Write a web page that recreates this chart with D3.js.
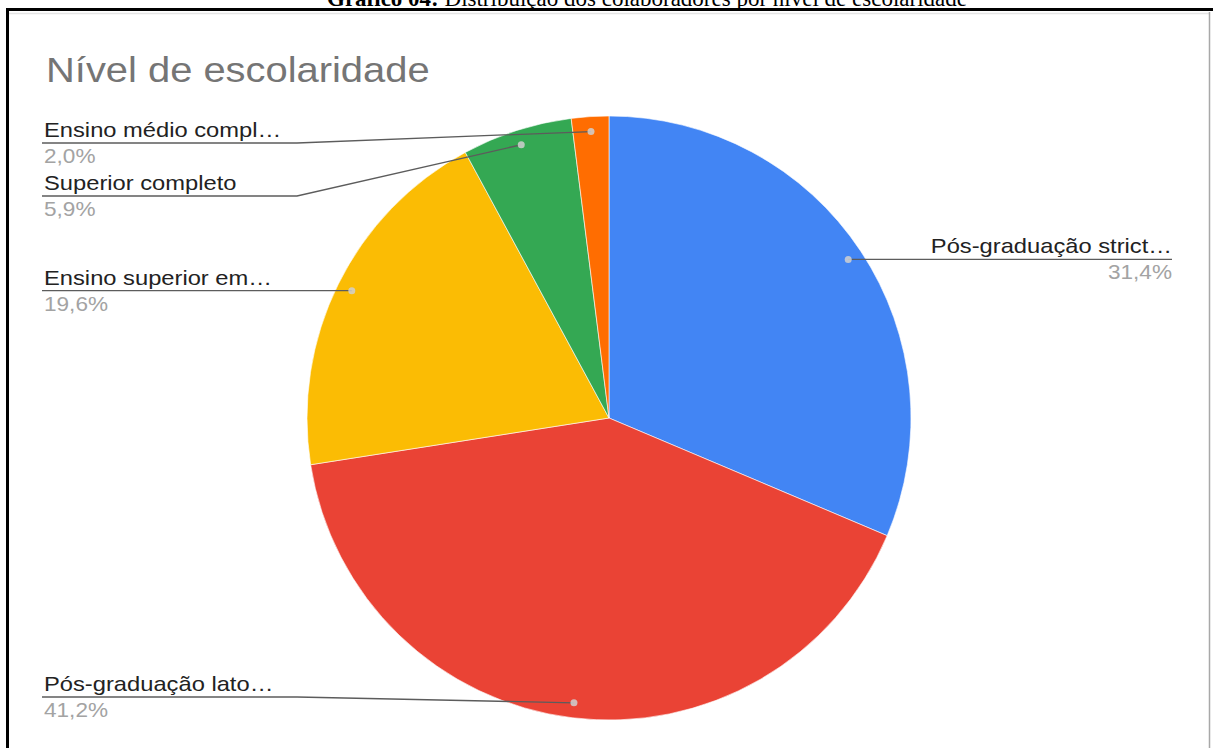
<!DOCTYPE html>
<html>
<head>
<meta charset="utf-8">
<script src="https://d3js.org/d3.v7.min.js"></script>
<style>
  html, body { margin: 0; padding: 0; background: #fff; }
  svg { display: block; }
</style>
</head>
<body>
<div id="chart"></div>
<script>
// Chart data
const labels = ["Pós-graduação strict…", "Pós-graduação lato…", "Ensino superior em…", "Superior completo", "Ensino médio compl…"];
const percents = [31.4, 41.2, 19.6, 5.9, 2.0];
const percentText = ["31,4%", "41,2%", "19,6%", "5,9%", "2,0%"];
const colors = ["#4285f4", "#ea4335", "#fbbc04", "#34a853", "#ff6d01"];

const captionBold = "Gráfico 04:";
const captionRest = " Distribuição dos colaboradores por nível de escolaridade";
const chartTitle = "Nível de escolaridade";

const width = 1213, height = 748;
const cx = 609, cy = 418, radius = 302;
const sx = 1.13; // the screenshot is a bit stretched sideways

const svg = d3.select("#chart")
  .append("svg")
  .attr("width", width)
  .attr("height", height);

// caption above the frame (cut off at the top, as in the scan)
const cap = svg.append("text")
  .attr("x", 647)
  .attr("y", 6)
  .attr("text-anchor", "middle")
  .attr("font-family", "'Liberation Serif', 'Times New Roman', serif")
  .attr("font-size", "23px")
  .attr("fill", "#000");
cap.append("tspan").attr("font-weight", "bold").text(captionBold);
cap.append("tspan").text(captionRest);

// frame
svg.append("line")
  .attr("x1", 9).attr("x2", 1210).attr("y1", 13.5).attr("y2", 13.5)
  .attr("stroke", "#e4e4e4").attr("stroke-width", 1.5);
svg.append("line")
  .attr("x1", 1209.5).attr("x2", 1209.5).attr("y1", 12).attr("y2", height)
  .attr("stroke", "#a8a8a8").attr("stroke-width", 1.5);
svg.append("line")
  .attr("x1", 6).attr("x2", width).attr("y1", 9.5).attr("y2", 9.5)
  .attr("stroke", "#000").attr("stroke-width", 3);
svg.append("line")
  .attr("x1", 7.5).attr("x2", 7.5).attr("y1", 8).attr("y2", height)
  .attr("stroke", "#000").attr("stroke-width", 3);

// chart title
svg.append("text")
  .attr("transform", `translate(46,82) scale(1.14,1)`)
  .attr("font-family", "Arial, 'Liberation Sans', sans-serif")
  .attr("font-size", "35px")
  .attr("fill", "#757575")
  .text(chartTitle);

// pie
const pie = d3.pie().sort(null).value(d => d);
const arcs = pie(percents);
const arc = d3.arc().innerRadius(0).outerRadius(radius);
const dotArc = d3.arc().innerRadius(287).outerRadius(287);

const g = svg.append("g").attr("transform", `translate(${cx},${cy})`);

g.selectAll("path")
  .data(arcs)
  .join("path")
  .attr("d", arc)
  .attr("fill", (d, i) => colors[i])
  .attr("stroke", "#fff")
  .attr("stroke-width", 0.6);

// dot on each slice
const dots = arcs.map(d => {
  const c = dotArc.centroid(d);
  return [cx + c[0], cy + c[1]];
});

// where the underline of each label sits (null = level with its dot)
const lineY = [null, 697, null, 196, 143];
const leftX = 44, rightX = 1172, elbowX = 297;

const font = "Arial, 'Liberation Sans', sans-serif";
const labelG = svg.append("g");

arcs.forEach((d, i) => {
  const [dx, dy] = dots[i];
  const onRight = dx > cx;
  const ly = lineY[i] === null ? dy : lineY[i];
  const tx = onRight ? rightX : leftX;
  const anchor = onRight ? "end" : "start";

  const t = labelG.append("text")
    .attr("transform", `translate(${tx},${ly - 6}) scale(${sx},1)`)
    .attr("text-anchor", anchor)
    .attr("font-family", font)
    .attr("font-size", "21px")
    .attr("fill", "#222")
    .text(labels[i]);

  labelG.append("text")
    .attr("transform", `translate(${tx},${ly + 20}) scale(${sx},1)`)
    .attr("text-anchor", anchor)
    .attr("font-family", font)
    .attr("font-size", "20px")
    .attr("fill", "#a3a3a3")
    .text(percentText[i]);

  const tw = t.node().getComputedTextLength() * sx;
  let path;
  if (onRight) {
    path = `M${rightX},${ly} H${dx} L${dx},${dy}`;
  } else {
    const endX = Math.min(Math.max(leftX + tw, elbowX), dx);
    path = `M${leftX - 2},${ly} H${endX} L${dx},${dy}`;
  }
  labelG.append("path")
    .attr("d", path)
    .attr("fill", "none")
    .attr("stroke", "#5c5c5c")
    .attr("stroke-width", 1.3);
});

svg.append("g")
  .selectAll("circle")
  .data(dots)
  .join("circle")
  .attr("cx", d => d[0])
  .attr("cy", d => d[1])
  .attr("r", 3.5)
  .attr("fill", "#d0d0d0")
  .attr("opacity", 0.85);
</script>
</body>
</html>
